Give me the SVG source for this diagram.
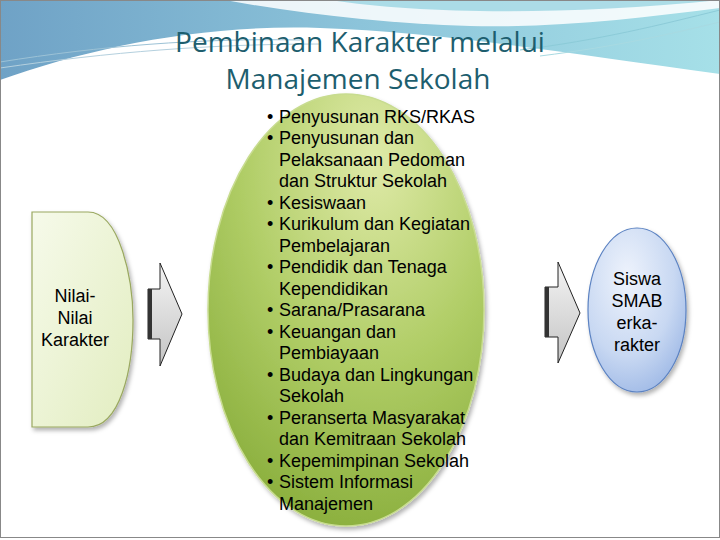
<svg xmlns="http://www.w3.org/2000/svg" width="720" height="540" viewBox="0 0 720 540">
<defs>
<linearGradient id="hdr" x1="0" y1="0" x2="1" y2="0">
<stop offset="0" stop-color="#6fa2c6"/><stop offset="0.5" stop-color="#8cc4da"/><stop offset="1" stop-color="#a6e0e8"/>
</linearGradient>
<radialGradient id="gE" cx="0.6" cy="0.15" r="0.95">
<stop offset="0" stop-color="#dfeaa8"/><stop offset="0.5" stop-color="#b0cd66"/><stop offset="1" stop-color="#84aa36"/>
</radialGradient>
<linearGradient id="gL" x1="0" y1="0" x2="1" y2="1">
<stop offset="0" stop-color="#f6faea"/><stop offset="1" stop-color="#e2edc0"/>
</linearGradient>
<radialGradient id="gB" cx="0.4" cy="0.3" r="0.8">
<stop offset="0" stop-color="#eef3fc"/><stop offset="0.6" stop-color="#c8d8f2"/><stop offset="1" stop-color="#98b4e4"/>
</radialGradient>
<linearGradient id="gA" x1="0" y1="0" x2="0" y2="1">
<stop offset="0" stop-color="#f4f4f4"/><stop offset="1" stop-color="#c4c4c4"/>
</linearGradient>
<filter id="sh" x="-10%" y="-10%" width="130%" height="130%">
<feDropShadow dx="2" dy="3" stdDeviation="2" flood-color="#000" flood-opacity="0.3"/>
</filter>
<style>
.t{font-family:"Liberation Sans",Arial,sans-serif;font-size:18px;fill:#000}
.n{font-family:"Liberation Sans",Arial,sans-serif;font-size:18px;fill:#000;text-anchor:middle}
.ttl{font-family:"Open Sans","Liberation Sans",sans-serif;font-size:28px;fill:#1d5e6e;text-anchor:middle}
.arr{fill:url(#gA);stroke:#222;stroke-width:1}
</style>
</defs>
<rect width="720" height="540" fill="#fff"/>
<g id="header">
<rect x="0" y="0" width="720" height="110" fill="url(#hdr)"/>
<path d="M0,80 C90,48 200,24 320,28 C440,32 560,52 720,74 L720,540 L0,540 Z" fill="#fff"/>
<path d="M225,0 C300,14 390,24 470,26 C560,28 640,18 720,8 L720,0 Z" fill="#fff" opacity="0.85"/>
<path d="M330,0 C420,14 560,16 720,0 Z" fill="#8fd0de" opacity="0.7"/>
<path d="M0,62 C100,46 200,38 300,40" fill="none" stroke="#9cc2d6" stroke-width="1"/>
<path d="M0,68 C110,52 210,44 320,44" fill="none" stroke="#b4d0de" stroke-width="1"/>
<path d="M520,50 C600,40 660,25 720,10" fill="none" stroke="#8ccbd8" stroke-width="1"/>
<path d="M540,56 C620,46 670,34 720,22" fill="none" stroke="#a8dae2" stroke-width="1"/>
</g>
<g id="title">
<text class="ttl" x="360" y="52">Pembinaan Karakter melalui</text>
<text class="ttl" x="358" y="89">Manajemen Sekolah</text>
</g>
<g id="connectors">
<path class="arr" d="M148,289 L160,289 L160,263 L182,314 L160,366 L160,339 L148,339 Z"/>
<rect x="148" y="289" width="4" height="50" fill="#333"/>
<path class="arr" d="M545,287 L558,287 L558,262 L580,313 L558,363 L558,337 L545,337 Z"/>
<rect x="545" y="287" width="4" height="50" fill="#333"/>
</g>
<g id="nilai">
<path d="M32,212 L88,212 C120,212 133,280 133,320 C133,370 120,427 88,427 L32,427 Z" fill="url(#gL)" stroke="#9aa860" stroke-width="1.2" filter="url(#sh)"/>
<text class="n" x="75" y="302">Nilai-</text>
<text class="n" x="75" y="324">Nilai</text>
<text class="n" x="75" y="346">Karakter</text>
</g>
<g id="manajemen">
<ellipse cx="346" cy="310" rx="138" ry="216" fill="url(#gE)" stroke="#c8dc90" stroke-width="1.5" filter="url(#sh)"/>
<g class="t">
<text x="267" y="123">•</text><text x="279" y="123">Penyusunan RKS/RKAS</text>
<text x="267" y="144">•</text><text x="279" y="144">Penyusunan dan</text>
<text x="279" y="166">Pelaksanaan Pedoman</text>
<text x="279" y="187">dan Struktur Sekolah</text>
<text x="267" y="209">•</text><text x="279" y="209">Kesiswaan</text>
<text x="267" y="230">•</text><text x="279" y="230">Kurikulum dan Kegiatan</text>
<text x="279" y="252">Pembelajaran</text>
<text x="267" y="273">•</text><text x="279" y="273">Pendidik dan Tenaga</text>
<text x="279" y="295">Kependidikan</text>
<text x="267" y="316">•</text><text x="279" y="316">Sarana/Prasarana</text>
<text x="267" y="338">•</text><text x="279" y="338">Keuangan dan</text>
<text x="279" y="359">Pembiayaan</text>
<text x="267" y="381">•</text><text x="279" y="381">Budaya dan Lingkungan</text>
<text x="279" y="402">Sekolah</text>
<text x="267" y="424">•</text><text x="279" y="424">Peranserta Masyarakat</text>
<text x="279" y="445">dan Kemitraan Sekolah</text>
<text x="267" y="467">•</text><text x="279" y="467">Kepemimpinan Sekolah</text>
<text x="267" y="488">•</text><text x="279" y="488">Sistem Informasi</text>
<text x="279" y="510">Manajemen</text>
</g>
</g>
<g id="siswa">
<ellipse cx="637" cy="310" rx="49" ry="82" fill="url(#gB)" stroke="#5b82c2" stroke-width="1.2" filter="url(#sh)"/>
<text class="n" x="637" y="285">Siswa</text>
<text class="n" x="637" y="307">SMAB</text>
<text class="n" x="637" y="329">erka-</text>
<text class="n" x="637" y="351">rakter</text>
</g>
<rect x="0.5" y="0.5" width="719" height="537" fill="none" stroke="#888" stroke-width="1"/>
</svg>
